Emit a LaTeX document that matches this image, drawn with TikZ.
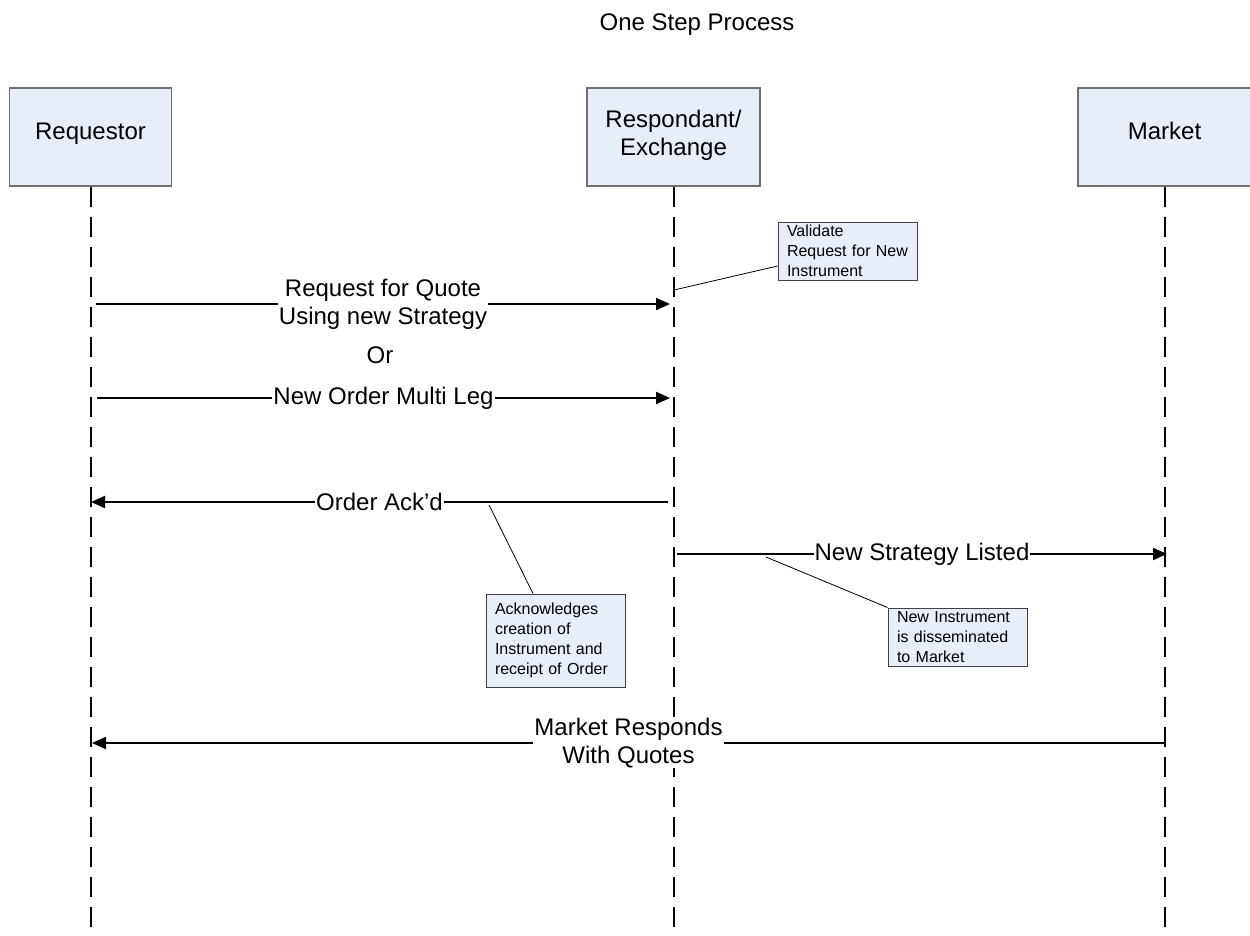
\documentclass[tikz,border=0pt]{standalone}
\usepackage{fontspec}
\setmainfont{Liberation Sans}
\usetikzlibrary{arrows.meta}
\definecolor{boxfill}{HTML}{E8EEF7}
\definecolor{boxline}{HTML}{707070}
\definecolor{noteline}{HTML}{404040}
\newcommand\lblfont{\fontsize{24}{28}\selectfont}
\newcommand\notetxt{\fontsize{16}{20}\selectfont}
\begin{document}
\begin{tikzpicture}[x=1pt,y=-1pt,
  actor/.style={draw=boxline, line width=1.2pt, fill=boxfill, inner sep=0pt, minimum height=98pt},
  actortext/.style={anchor=base, font=\lblfont, align=center, inner sep=0pt},
  note/.style={draw=noteline, line width=1pt, fill=boxfill, inner xsep=9pt, inner ysep=0pt,
    text width=121pt, align=left, font=\notetxt},
  lifeline/.style={line width=2pt, dash pattern=on 20pt off 10pt},
  msg/.style={line width=2pt, -{Triangle[length=14pt,width=12pt]}},
  msglabel/.style={fill=white, inner xsep=1pt, inner ysep=0pt, align=center, font=\lblfont},
  notelink/.style={line width=0.8pt}
]
\useasboundingbox (0,0) rectangle (1250,935);

% title
\node[anchor=base, font=\lblfont] (title) at (697,30) {One Step Process};

% actors
\node[actor, minimum width=162pt] (req) at (90.5,137) {};
\node[actor, minimum width=173pt] (resp) at (673.5,137) {};
\node[actor, minimum width=173pt] (mkt) at (1164.5,137) {};
\node[actortext] (reqT) at (90.5,139) {Requestor};
\node[font=\lblfont, align=center, inner sep=0pt] (respT) at (673.5,135) {Respondant/\\Exchange};
\node[actortext] (mktT) at (1164.5,139) {Market};

% lifelines
\coordinate (reqB) at (90.5,935);
\coordinate (respB) at (673.5,935);
\coordinate (mktB) at (1164.5,935);
\draw[lifeline] (req.south) -- (reqB);
\draw[lifeline] (resp.south) -- (respB);
\draw[lifeline] (mkt.south) -- (mktB);

% message end points
\coordinate (m1s) at (96,304);   \coordinate (m1e) at (670,304);
\coordinate (m2s) at (97,398);   \coordinate (m2e) at (670,398);
\coordinate (m3s) at (668,502);  \coordinate (m3e) at (91,502);
\coordinate (m4s) at (677,554);  \coordinate (m4e) at (1167,554);
\coordinate (m5s) at (1165,743); \coordinate (m5e) at (92,743);

% messages
\draw[msg] (m1s) -- node[msglabel] (l1) {Request for Quote\\Using new Strategy} (m1e);
\node[anchor=base, font=\lblfont, inner sep=0pt] (or) at (380,363) {Or};
\draw[msg] (m2s) -- node[msglabel] (l2) {New Order Multi Leg} (m2e);
\draw[msg] (m3s) -- node[msglabel] (l3) {Order Ack’d} (m3e);
\draw[msg] (m4s) -- node[msglabel] (l4) {New Strategy Listed} (m4e);
\draw[msg] (m5s) -- node[msglabel] (l5) {Market Responds\\With Quotes} (m5e);

% notes
\node[note, minimum height=58pt] (n1) at (847.5,251) {Validate\\Request for New\\Instrument};
\node[note, minimum height=93pt] (n2) at (555.5,640.5) {Acknowledges\\creation of\\Instrument and\\receipt of Order};
\node[note, minimum height=58pt] (n3) at (957.5,637) {New Instrument\\is disseminated\\to Market};

\coordinate (n1t) at (674,290);
\coordinate (n2t) at (489,505);
\coordinate (n3t) at (766,557);
\draw[notelink] ([yshift=-15pt]n1.west) -- (n1t);
\draw[notelink] ([xshift=-22.5pt]n2.north) -- (n2t);
\draw[notelink] (n3.north west) -- (n3t);
\end{tikzpicture}
\end{document}
